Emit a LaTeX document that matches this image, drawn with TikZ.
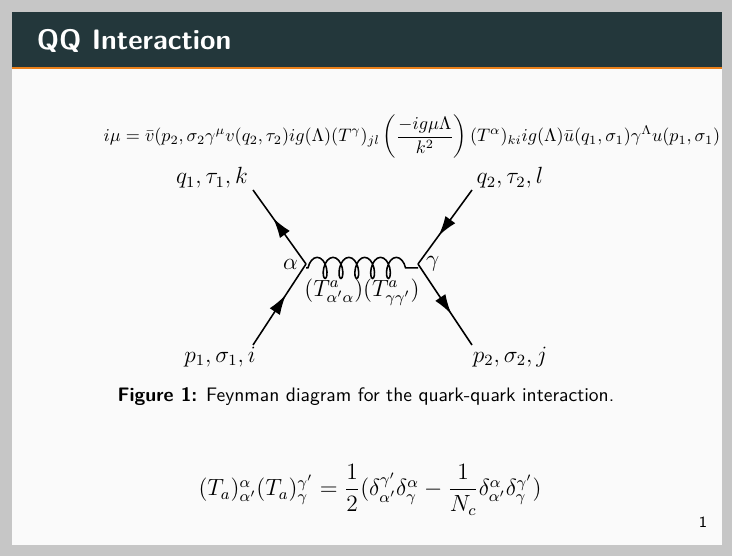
\documentclass[tikz,border=0pt]{standalone}
\usepackage{amsmath}
\renewcommand{\familydefault}{\sfdefault}
\usetikzlibrary{positioning,decorations.pathmorphing,decorations.markings,arrows.meta}
\definecolor{mDark}{HTML}{23373B}
\definecolor{mOrange}{HTML}{EB811B}
\definecolor{mBack}{HTML}{FAFAFA}
\tikzset{
  fermion/.style={thick,postaction={decorate},decoration={markings,
    mark=at position 0.62 with {\arrow{Latex[length=3.6mm,width=2.2mm]}}}},
  gluon/.style={thick,decorate,decoration={coil,amplitude=1.9mm,segment length=2.85mm,aspect=0.5,pre length=1pt,post length=1pt}},
  lbl/.style={inner sep=1pt,font=\large}
}
\begin{document}
\begin{tikzpicture}[x=0.018cm,y=-0.018cm]
\useasboundingbox (0,0) rectangle (732,556);
\fill[gray!45] (0,0) rectangle (732,556);
\fill[mBack] (12,12) rectangle (722,545);
\fill[mDark] (12,12) rectangle (722,67);
\fill[mOrange] (12,67) rectangle (722,69.5);
\node[anchor=west,text=white,font=\Large\bfseries] (title) at (30,41) {QQ Interaction};
% amplitude
\node (amp) at (412,137) {\resizebox{11.1cm}{!}{$i\mu = \bar{v}(p_2,\sigma_2\gamma^{\mu}v(q_2,\tau_2)ig(\Lambda)(T^{\gamma})_{jl}\left(\dfrac{-ig\mu\Lambda}{k^2}\right)(T^{\alpha})_{ki}ig(\Lambda)\bar{u}(q_1,\sigma_1)\gamma^{\Lambda}u(p_1,\sigma_1)$}};
% diagram
\coordinate (va) at (306,264);
\coordinate (vg) at (418,264);
\coordinate (q1) at (253,190);
\coordinate (p1) at (253,345);
\coordinate (q2) at (472,190);
\coordinate (p2) at (472,345);
\draw[fermion] (p1) -- (va);
\draw[fermion] (va) -- (q1);
\draw[fermion] (q2) -- (vg);
\draw[fermion] (vg) -- (p2);
\draw[gluon] ([yshift=-2pt]va) -- ([yshift=-2pt]vg);
\node[lbl] (lq1) at (212,178) {$q_1,\tau_1,k$};
\node[lbl] (lq2) at (510,178) {$q_2,\tau_2,l$};
\node[lbl] (lp1) at (220,357) {$p_1,\sigma_1,i$};
\node[lbl] (lp2) at (510,357) {$p_2,\sigma_2,j$};
\node[lbl,left=3pt of va] (la) {$\alpha$};
\node[lbl,right=3pt of vg] (lg) {$\gamma$};
\node[lbl] (lt) at (362,292) {$(T^a_{\alpha'\alpha})(T^a_{\gamma\gamma'})$};
\node (cap) at (366,397) {\textbf{Figure 1:} Feynman diagram for the quark-quark interaction.};
% colour identity
\node[font=\large] (fierz) at (370,490) {$(T_a)^{\alpha}_{\alpha'}(T_a)^{\gamma'}_{\gamma}=\dfrac{1}{2}(\delta^{\gamma'}_{\alpha'}\delta^{\alpha}_{\gamma}-\dfrac{1}{N_c}\delta^{\alpha}_{\alpha'}\delta^{\gamma'}_{\gamma})$};
\node[font=\footnotesize] (page) at (703,522) {1};
\end{tikzpicture}
\end{document}
